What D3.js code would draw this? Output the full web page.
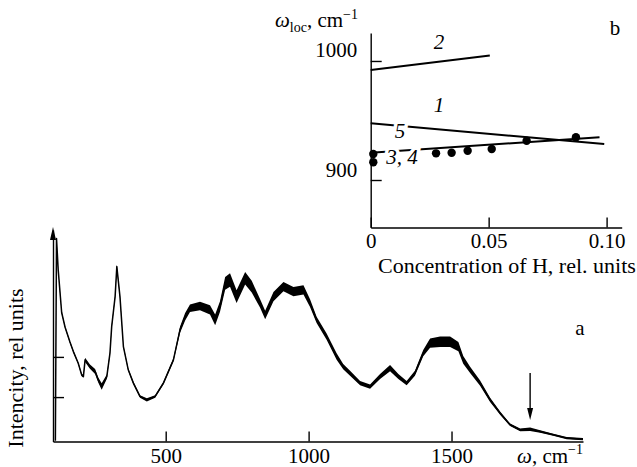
<!DOCTYPE html>
<html>
<head>
<meta charset="utf-8">
<script src="https://cdn.jsdelivr.net/npm/d3@7"></script>
<style>
  body { margin: 0; background: #fff; }
  svg text { font-family: "Liberation Serif", "Times New Roman", Times, "DejaVu Serif", serif; fill: #000; }
</style>
</head>
<body>
<div id="chart"></div>
<script>
// ---- panel a: Raman spectrum (omega in cm^-1, intensity in rel. units) ----
const omega = [114, 118, 124, 136, 148, 165, 177, 194, 206, 212,
  218, 235, 253, 264, 276, 294, 305, 311, 323, 329,
  340, 352, 369, 387, 410, 434, 463, 492, 527, 550,
  568, 585, 620, 655, 673, 690, 708, 725, 748, 778,
  801, 830, 848, 877, 912, 947, 982, 1005, 1028, 1063,
  1098, 1121, 1145, 1180, 1215, 1250, 1285, 1314, 1343, 1372,
  1401, 1425, 1460, 1495, 1524, 1541, 1565, 1600, 1635, 1670,
  1705, 1740, 1775, 1810, 1856, 1903, 1960];
const intensity = [0.3, 96, 81, 61, 54, 47, 42.5, 37, 31.5, 30.7,
  38.6, 35.4, 33.1, 29.1, 26, 30.7, 41.8, 54.3, 68.5, 82.7,
  68.5, 44.9, 33.9, 27.6, 21.3, 19.7, 21.3, 27.6, 38.6, 52.8,
  59, 63, 64.1, 62.2, 57.5, 63.8, 74.8, 76.4, 68.5, 77.2,
  73.2, 65.4, 59.8, 68.5, 73.2, 70.9, 71.7, 65.4, 57.5, 49.6,
  40.2, 35.4, 32.3, 27.6, 26, 30.7, 34.7, 30.7, 27.6, 32.3,
  41.8, 46.5, 47.2, 47.2, 44.9, 38.6, 33.9, 27.6, 19.7, 13.4,
  7.9, 5.5, 5.8, 4.7, 3.2, 1.6, 1.1];
// half width of the noisy trace, same units
const spread = [0.5, 0.5, 0.5, 0.5, 0.5, 0.5, 0.5, 0.5, 0.6, 0.6,
  1.0, 1.0, 1.2, 1.2, 1.5, 1.0, 0.8, 0.8, 0.8, 1.0,
  0.8, 0.6, 0.6, 0.6, 0.6, 0.8, 0.6, 0.6, 0.8, 1.5,
  1.8, 1.8, 2.0, 2.2, 2.5, 2.5, 3.0, 3.2, 3.0, 3.0,
  2.8, 2.0, 2.0, 2.2, 2.2, 2.2, 2.2, 1.8, 1.5, 1.5,
  1.5, 1.2, 1.2, 1.0, 1.0, 1.2, 1.5, 1.2, 1.0, 1.2,
  1.5, 2.2, 2.5, 2.5, 2.2, 1.8, 1.5, 1.2, 1.0, 0.8,
  0.6, 0.6, 0.8, 0.6, 0.5, 0.5, 0.5];
const omegaTicks = [500, 1000, 1500];
const intensityTicks = [21, 40];
const arrowOmega = 1775;
const arrowFrom = 32.4, arrowTo = 10.2;

// ---- panel b: local mode frequency vs H concentration ----
const concTicks = [0, 0.05, 0.10];
const locTicks = [900, 1000];
const concLine2 = [0, 0.0505], locLine2 = [992.4, 1004.5];
const concLine5 = [0, 0.099], locLine5 = [947.6, 930.3];
const concLine34 = [0, 0.097], locLine34 = [923.0, 935.9];
const concDots = [0.0011, 0.0011, 0.0277, 0.0343, 0.0411, 0.0513, 0.0661, 0.087];
const locDots = [921.8, 914.9, 922.4, 922.9, 924.6, 926.1, 933.0, 935.9];
const curveLabels = ["2", "1", "5", "3, 4"];
const labelConc = [0.029, 0.029, 0.0124, 0.0133];
const labelLoc = [1016.2, 963, 941.2, 919.3];

const width = 637, height = 467;
const fs = 21;     // tick labels
const fsTitle = 22; // axis titles

const svg = d3.select("#chart")
  .append("svg")
  .attr("width", width)
  .attr("height", height);

function styleAxis(g) {
  g.attr("font-family", null).attr("font-size", fs);
  g.select(".domain").attr("stroke", "#000").attr("stroke-width", 1.4);
  g.selectAll(".tick line").attr("stroke", "#000").attr("stroke-width", 1.4);
}

// ===== panel a =====
const xa = d3.scaleLinear().domain([105.7, 1960]).range([53, 583]);
const ya = d3.scaleLinear().domain([0, 100]).range([441.5, 230]);

svg.append("g")
  .attr("transform", "translate(0," + ya(0) + ")")
  .call(d3.axisBottom(xa).tickValues(omegaTicks).tickFormat(d3.format("d"))
    .tickSize(-10).tickSizeOuter(0).tickPadding(6.6))
  .call(styleAxis);

svg.append("g")
  .attr("transform", "translate(" + xa(105.7) + ",0)")
  .call(d3.axisLeft(ya).tickValues(intensityTicks).tickSize(-11).tickSizeOuter(0).tickFormat(""))
  .call(styleAxis);

// arrow head on intensity axis
svg.append("path")
  .attr("d", "M" + xa(105.7) + "," + (ya(100) - 3) + "l-3,13h6z")
  .attr("fill", "#000");

const spec = omega.map((w, i) => ({ w: w, v: intensity[i], s: spread[i] }));

svg.append("path")
  .datum(spec)
  .attr("fill", "#000")
  .attr("d", d3.area()
    .x(d => xa(d.w))
    .y0(d => ya(d.v - d.s))
    .y1(d => ya(d.v + d.s)));

svg.append("path")
  .datum(spec)
  .attr("fill", "none")
  .attr("stroke", "#000")
  .attr("stroke-width", 1.5)
  .attr("stroke-linejoin", "round")
  .attr("d", d3.line().x(d => xa(d.w)).y(d => ya(d.v)));

// marker arrow
svg.append("line")
  .attr("x1", xa(arrowOmega)).attr("x2", xa(arrowOmega))
  .attr("y1", ya(arrowFrom)).attr("y2", ya(arrowTo) - 8)
  .attr("stroke", "#000").attr("stroke-width", 1.4);
svg.append("path")
  .attr("d", "M" + xa(arrowOmega) + "," + ya(arrowTo) + "l-3,-12h6z")
  .attr("fill", "#000");

const xaLabel = svg.append("text")
  .attr("x", 583).attr("y", 463)
  .attr("text-anchor", "end")
  .attr("font-size", fs);
xaLabel.append("tspan").attr("font-style", "italic").text("ω");
xaLabel.append("tspan").text(", cm");
xaLabel.append("tspan").attr("font-size", 14).attr("dy", -9).text("−1");

svg.append("text")
  .attr("transform", "translate(23,368) rotate(-90)")
  .attr("text-anchor", "middle")
  .attr("font-size", fsTitle)
  .text("Intencity, rel units");

svg.append("text")
  .attr("x", 580).attr("y", 335)
  .attr("text-anchor", "middle")
  .attr("font-size", fs)
  .text("a");

// ===== panel b =====
const xb = d3.scaleLinear().domain([0, 0.1064]).range([370.7, 621.7]);
const yb = d3.scaleLinear().domain([860.1, 1023.5]).range([227.5, 33]);

svg.append("g")
  .attr("transform", "translate(0," + yb(860.1) + ")")
  .call(d3.axisBottom(xb).tickValues(concTicks)
    .tickFormat(d => d === 0 ? "0" : d3.format(".2f")(d))
    .tickSize(-10).tickSizeOuter(0).tickPadding(5.6))
  .call(styleAxis);

const yAxisB = svg.append("g")
  .attr("transform", "translate(" + xb(0) + ",0)")
  .call(d3.axisLeft(yb).tickValues(locTicks).tickFormat(d3.format("d"))
    .tickSize(-11).tickSizeOuter(0).tickPadding(13.5))
  .call(styleAxis);
yAxisB.selectAll(".tick text").attr("dy", -4);

const lineB = d3.line().x(d => xb(d[0])).y(d => yb(d[1]));
[[concLine2, locLine2], [concLine5, locLine5], [concLine34, locLine34]].forEach(function (p) {
  svg.append("path")
    .datum(p[0].map((c, i) => [c, p[1][i]]))
    .attr("fill", "none")
    .attr("stroke", "#000")
    .attr("stroke-width", 2)
    .attr("d", lineB);
});

svg.selectAll(".dot")
  .data(concDots)
  .enter()
  .append("circle")
  .attr("class", "dot")
  .attr("cx", d => xb(d))
  .attr("cy", (d, i) => yb(locDots[i]))
  .attr("r", 4.2)
  .attr("fill", "#000");

svg.selectAll(".clabel")
  .data(curveLabels)
  .enter()
  .append("text")
  .attr("class", "clabel")
  .attr("x", (d, i) => xb(labelConc[i]))
  .attr("y", (d, i) => yb(labelLoc[i]))
  .attr("dy", "0.35em")
  .attr("text-anchor", "middle")
  .attr("font-size", fs)
  .attr("font-style", "italic")
  .attr("stroke", "#fff")
  .attr("stroke-width", 7)
  .attr("paint-order", "stroke")
  .text(d => d);

const ybLabel = svg.append("text")
  .attr("x", 358).attr("y", 27)
  .attr("text-anchor", "end")
  .attr("font-size", fs);
ybLabel.append("tspan").attr("font-style", "italic").text("ω");
ybLabel.append("tspan").attr("font-size", 14).attr("dy", 5).text("loc");
ybLabel.append("tspan").attr("dy", -5).text(", cm");
ybLabel.append("tspan").attr("font-size", 14).attr("dy", -8).text("−1");

svg.append("text")
  .attr("x", 378).attr("y", 273)
  .attr("font-size", fsTitle)
  .text("Concentration of H, rel. units");

svg.append("text")
  .attr("x", 615).attr("y", 35)
  .attr("text-anchor", "middle")
  .attr("font-size", fs)
  .text("b");
</script>
</body>
</html>
